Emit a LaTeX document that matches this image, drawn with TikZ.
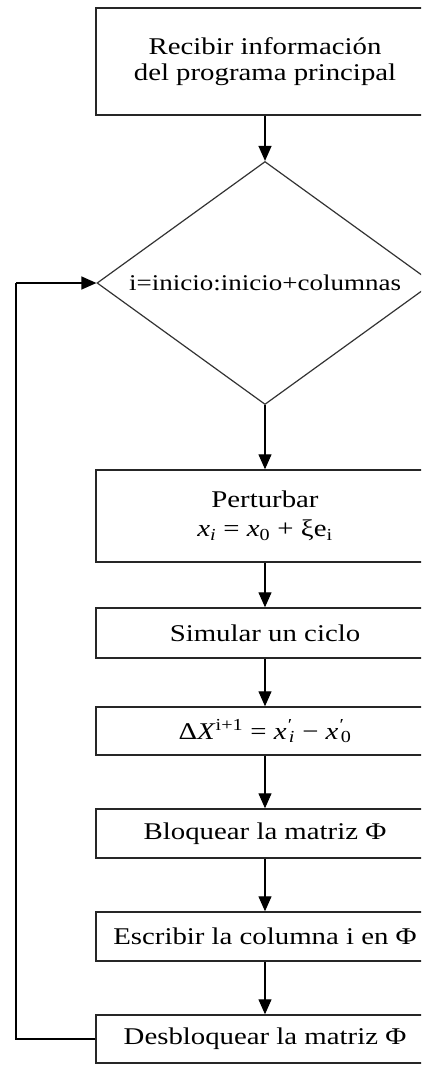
\documentclass[tikz,border=0pt]{standalone}
\usepackage{fontspec}
\setmainfont[FakeStretch=1.2]{Liberation Serif}
\usetikzlibrary{shapes.geometric,arrows.meta}
\begin{document}
\begin{tikzpicture}[x=1pt,y=-1pt,
  font=\fontsize{24pt}{26pt}\selectfont,
  box/.style={draw=black!85,line width=1.4pt,rectangle,minimum width=338pt,inner sep=0pt,align=center},
  decision/.style={draw=black!80,line width=1.2pt,diamond,aspect=1.38,minimum width=336pt,minimum height=243pt,inner sep=0pt},
  flow/.style={line width=1.2pt,-{Triangle[width=13pt,length=15pt]}},
  link/.style={line width=1.2pt}]
\fill[white] (0,0) rectangle (421,1065);
\useasboundingbox (0,0) rectangle (421,1065);
\clip (0,0) rectangle (421,1065);
\node[box,minimum height=107pt] (b1) at (265,61.5) {Recibir información\\del programa principal};
\node[decision] (dec) at (265,283) {\fontsize{22.5pt}{24pt}\selectfont i=inicio:inicio+columnas};
\node[box,minimum height=92pt] (p) at (265,516) {Perturbar\\[3pt]\textit{x}\textsubscript{\textit{i}} = \textit{x}\textsubscript{0} + ξe\textsubscript{i}};
\node[box,minimum height=50pt] (s) at (265,633) {Simular un ciclo};
\node[box,minimum height=48pt] (d) at (265,731) {Δ\textit{X}\textsuperscript{i+1} = \textit{x}\textsuperscript{\textit{′}}\kern-0.12em\textsubscript{\textit{i}} − \textit{x}\textsuperscript{\textit{′}}\kern-0.12em\textsubscript{0}};
\node[box,minimum height=49pt] (bl) at (265,833.5) {Bloquear la matriz Φ};
\node[box,minimum height=49pt] (e) at (265,936.5) {Escribir la columna i en Φ};
\node[box,minimum height=48pt] (u) at (265,1039) {Desbloquear la matriz Φ};
\coordinate (c1) at (16,1039);
\coordinate (c2) at (16,283);
\draw[flow] (b1.south) -- (dec.north);
\draw[flow] (dec.south) -- (p.north);
\draw[flow] (p.south) -- (s.north);
\draw[flow] (s.south) -- (d.north);
\draw[flow] (d.south) -- (bl.north);
\draw[flow] (bl.south) -- (e.north);
\draw[flow] (e.south) -- (u.north);
\draw[link] (u.west) -- (c1) -- (c2);
\draw[flow] (c2) -- (dec.west);
\end{tikzpicture}
\end{document}
